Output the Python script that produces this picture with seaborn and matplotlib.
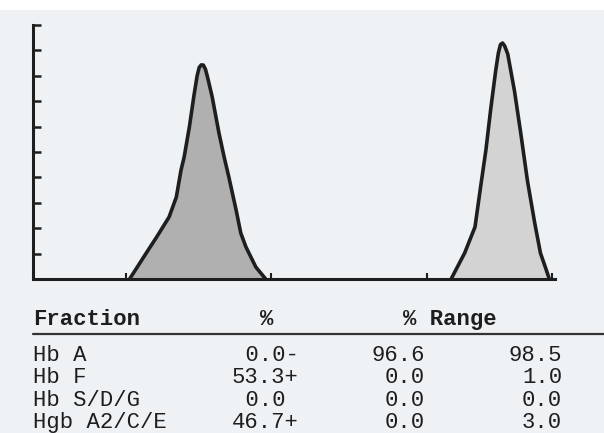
import numpy as np
import pandas as pd
import seaborn as sns
import matplotlib.pyplot as plt
from matplotlib.patches import Rectangle
from matplotlib.lines import Line2D

# Elektropherogramm: zwei Peaks (relative Mobilitaet 0-100, Intensitaet 0-100)
peak1_x = [18.6, 21.8, 23.8, 26.2, 27.6, 28.5, 29.1, 30.1, 31.0, 31.6, 32.0, 32.4,
           32.8, 33.2, 33.6, 34.5, 35.8, 36.8, 37.7, 39.1, 40.0, 41.0, 42.9, 44.8]
peak1_y = [0.0, 10.2, 16.5, 24.4, 32.3, 42.9, 48.0, 59.8, 72.4, 80.0, 83.3, 84.3,
           84.2, 82.6, 79.5, 71.7, 57.5, 48.0, 40.2, 27.2, 18.1, 12.6, 4.7, 0.0]

peak2_x = [80.5, 81.8, 83.1, 85.1, 86.2, 87.2, 88.1, 89.1, 89.6, 90.0, 90.4, 90.8,
           91.4, 92.7, 93.9, 95.2, 96.6, 97.7, 98.7, 99.4]
peak2_y = [0.0, 5.1, 10.2, 20.5, 36.6, 50.8, 66.5, 82.3, 89.0, 92.3, 92.9, 91.8,
           88.6, 74.0, 57.5, 38.6, 22.0, 10.2, 4.3, 0.0]

# Trennmarken auf der Grundlinie
marks_x = [18.0, 45.8, 75.9, 100.0]
y_ticks = list(range(0, 101, 10))

# Tabelle
fractions = ["Hb A", "Hb F", "Hb S/D/G", "Hgb A2/C/E"]
pct_values = [0.0, 53.3, 0.0, 46.7]
pct_flags = ["-", "+", "", "+"]
range_low = [96.6, 0.0, 0.0, 0.0]
range_high = [98.5, 1.0, 0.0, 3.0]

W, H = 604, 433
bg = "#eef2f5"
ink = "#1e1e1e"


def fx(px):
    return px / W


def fy(py):
    return 1 - py / H


sns.set_theme(style="ticks")
plt.rcParams["font.family"] = ["Liberation Mono", "DejaVu Sans Mono"]

fig = plt.figure(figsize=(W / 100, H / 100), dpi=100, facecolor=bg)
fig.patches.append(Rectangle((0, fy(10)), 1, 10 / H, transform=fig.transFigure,
                             facecolor="white", edgecolor="none", zorder=0))

ax = fig.add_axes([fx(33), fy(279), (555 - 33) / W, (279 - 25) / H])
ax.set_facecolor("none")

df1 = pd.DataFrame({"x": peak1_x, "y": peak1_y})
df2 = pd.DataFrame({"x": peak2_x, "y": peak2_y})

ax.fill_between(df1["x"], df1["y"], color="#b0b0b0", zorder=1)
ax.fill_between(df2["x"], df2["y"], color="#d3d3d3", zorder=1)
for d in (df1, df2):
    sns.lineplot(data=d, x="x", y="y", sort=False, color=ink, lw=2.6, ax=ax,
                 zorder=3, solid_joinstyle="round", solid_capstyle="round")

ax.set_xlim(0, 100.5)
ax.set_ylim(0, 100)
ax.set_xlabel("")
ax.set_ylabel("")
sns.despine(ax=ax, top=True, right=True)
for side in ["left", "bottom"]:
    ax.spines[side].set_color(ink)
    ax.spines[side].set_linewidth(2.2)
ax.set_yticks(y_ticks)
ax.set_xticks(marks_x)
ax.tick_params(axis="y", direction="in", length=6, width=1.8, color=ink,
               labelleft=False)
ax.tick_params(axis="x", direction="in", length=4, width=1.5, color=ink,
               labelbottom=False)

# Tabelle unter dem Diagramm
fs = 16
fig.text(fx(33), fy(325), "Fraction", fontsize=fs, fontweight="bold",
         color=ink, ha="left", va="baseline")
fig.text(fx(267), fy(325), "%", fontsize=fs, fontweight="bold",
         color=ink, ha="center", va="baseline")
fig.text(fx(403), fy(325), "% Range", fontsize=fs, fontweight="bold",
         color=ink, ha="left", va="baseline")
fig.add_artist(Line2D([fx(33), 1.0], [fy(334), fy(334)], color="#333333",
                      lw=1.6, transform=fig.transFigure))

row_y = [361, 383, 406, 428]
for name, v, flag, lo, hi, y in zip(fractions, pct_values, pct_flags,
                                    range_low, range_high, row_y):
    fig.text(fx(33), fy(y), name, fontsize=fs, color=ink, ha="left", va="baseline")
    fig.text(fx(232), fy(y), f"{v:4.1f}{flag}", fontsize=fs, color=ink,
             ha="left", va="baseline")
    fig.text(fx(425), fy(y), f"{lo:.1f}", fontsize=fs, color=ink,
             ha="right", va="baseline")
    fig.text(fx(562), fy(y), f"{hi:.1f}", fontsize=fs, color=ink,
             ha="right", va="baseline")

fig.savefig("out.png", dpi=100, facecolor=bg)
